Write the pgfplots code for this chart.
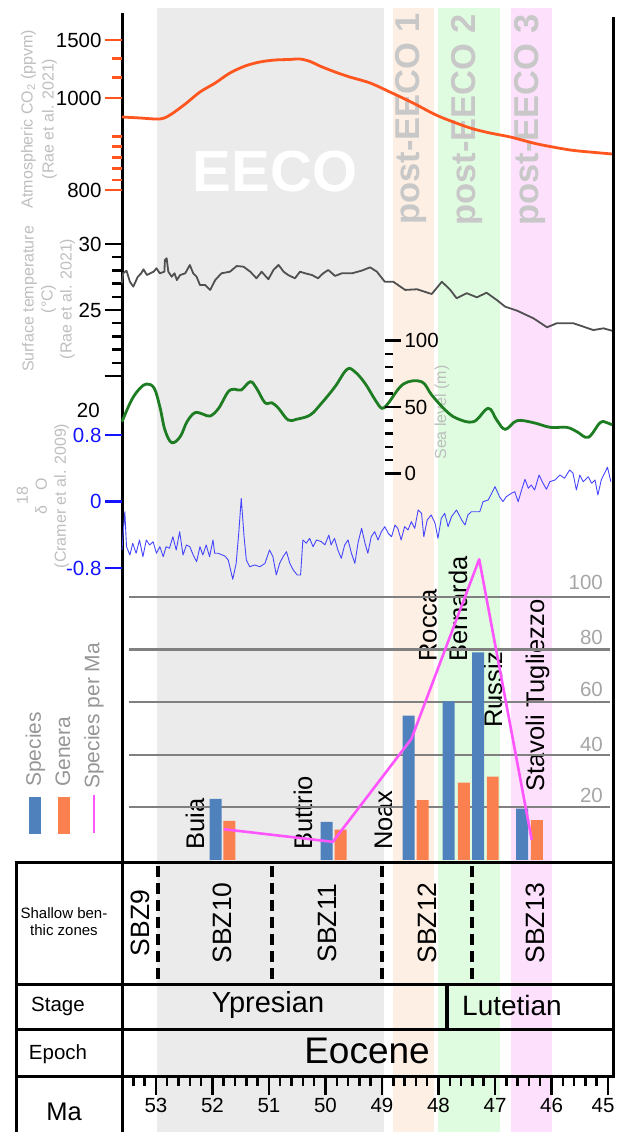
\documentclass[border=0pt]{standalone}
\usepackage{fontspec}
\setmainfont{Liberation Sans}
\usepackage{pgfplots}
\pgfplotsset{compat=1.18}
\definecolor{co2}{RGB}{255,85,30}
\definecolor{tempc}{RGB}{80,80,80}
\definecolor{seac}{RGB}{30,125,35}
\definecolor{oxc}{RGB}{70,70,255}
\definecolor{oxtick}{RGB}{20,20,255}
\definecolor{bandgray}{RGB}{235,235,235}
\definecolor{bandorange}{RGB}{253,239,227}
\definecolor{bandgreen}{RGB}{224,252,224}
\definecolor{bandpink}{RGB}{252,224,252}
\definecolor{barblue}{RGB}{79,129,189}
\definecolor{barorange}{RGB}{250,128,80}
\definecolor{spm}{RGB}{255,85,255}
\definecolor{gridc}{RGB}{128,128,128}
\definecolor{labgray}{RGB}{190,190,190}
\definecolor{gridlab}{RGB}{165,165,165}
\definecolor{leggray}{RGB}{150,150,150}
\definecolor{postc}{RGB}{200,200,200}
\newcommand{\fs}[1]{\fontsize{#1}{#1}\selectfont}
\pgfplotsset{
  panel/.style={scale only axis, width=490pt, xmin=44.93, xmax=53.60, x dir=reverse,
    clip=false, axis line style={draw=none}, xtick=\empty, tick pos=left,
    tick align=outside, major tick length=17pt, minor tick length=10pt,
    tick label style={font=\fontsize{20.5}{22}\selectfont}, anchor=south west},
}
\begin{document}
\begin{tikzpicture}
\useasboundingbox (0,0) rectangle (617pt,1132pt);
% background bands
\begin{axis}[scale only axis, width=490pt, height=1124pt, at={(122pt,0pt)}, anchor=south west,
  xmin=44.93, xmax=53.60, x dir=reverse, ymin=0, ymax=1, hide axis, clip=false]
\addplot[fill=bandgray, draw=none] coordinates {(52.98,0) (48.97,0) (48.97,1) (52.98,1)} -- cycle;
\addplot[fill=bandorange, draw=none] coordinates {(48.80,0) (48.08,0) (48.08,1) (48.80,1)} -- cycle;
\addplot[fill=bandgreen, draw=none] coordinates {(48.01,0) (46.91,0) (46.91,1) (48.01,1)} -- cycle;
\addplot[fill=bandpink, draw=none] coordinates {(46.71,0) (45.99,0) (45.99,1) (46.71,1)} -- cycle;
\end{axis}
% texts and table in pixel coordinates
\begin{scope}[x=1pt,y=-1pt,shift={(0pt,1132pt)}]
\node[font=\fs{58}\bfseries, text=white] at (275,172) {EECO};
\node[rotate=90, inner sep=0, font=\fs{34.5}\bfseries, text=postc] at (411,119) {post-EECO 1};
\node[rotate=90, inner sep=0, font=\fs{34.5}\bfseries, text=postc] at (466.7,120) {post-EECO 2};
\node[rotate=90, inner sep=0, font=\fs{34.5}\bfseries, text=postc] at (529.7,120) {post-EECO 3};
% axis labels
\node[rotate=90, align=center, inner sep=0, font=\fontsize{16}{21}\selectfont, text=labgray] at (39,119) {Atmospheric CO\textsubscript{2} (ppvm)\\(Rae et al. 2021)};
\node[rotate=90, align=center, inner sep=0, font=\fontsize{16}{19}\selectfont, text=labgray] at (48.5,299) {Surface temperature\\(°C)\\(Rae et al. 2021)};
\node[rotate=90, align=center, inner sep=0, font=\fontsize{16}{19}\selectfont, text=labgray] at (43,496) {18\\δ\hspace{15pt}O\\(Cramer et al. 2009)};
\node[rotate=90, inner sep=0, font=\fs{16}, text=labgray] at (442,412.5) {Sea level (m)};
\node[anchor=east, inner sep=0, font=\fs{20.5}] at (100,410.5) {20};
% site labels
\node[rotate=90, anchor=west, inner sep=0, font=\fs{25.5}] at (195,850) {Buia};
\node[rotate=90, anchor=west, inner sep=0, font=\fs{25.5}] at (303,850) {Buttrio};
\node[rotate=90, anchor=west, inner sep=0, font=\fs{25.5}] at (383.5,850) {Noax};
\node[rotate=90, anchor=west, inner sep=0, font=\fs{25.5}] at (428,661.7) {Rocca};
\node[rotate=90, anchor=west, inner sep=0, font=\fs{25.5}] at (458,661.7) {Bernarda};
\node[rotate=90, anchor=west, inner sep=0, font=\fs{25.5}] at (493,728) {Russiz};
\node[rotate=90, anchor=west, inner sep=0, font=\fs{25.5}] at (537.5,791.7) {Stavoli Tugliezzo};
% grid labels
\node[anchor=base east, inner sep=0, font=\fs{20.5}, text=gridlab] at (603,590) {100};
\node[anchor=base east, inner sep=0, font=\fs{20.5}, text=gridlab] at (603,645) {80};
\node[anchor=base east, inner sep=0, font=\fs{20.5}, text=gridlab] at (603,697) {60};
\node[anchor=base east, inner sep=0, font=\fs{20.5}, text=gridlab] at (603,752) {40};
\node[anchor=base east, inner sep=0, font=\fs{20.5}, text=gridlab] at (603,803) {20};
% legend
\node[rotate=90, anchor=west, inner sep=0, font=\fs{21}, text=leggray] at (35.5,787) {Species};
\node[rotate=90, anchor=west, inner sep=0, font=\fs{21}, text=leggray] at (63,787) {Genera};
\node[rotate=90, anchor=west, inner sep=0, font=\fs{21}, text=leggray] at (94,789) {Species per Ma};
\fill[barblue] (29,797) rectangle (41,834);
\fill[barorange] (58,797) rectangle (70,834);
\draw[spm, line width=2.8pt] (94,795) -- (94,833);
% frame lines
\draw[line width=3pt] (122,13) -- (122,1132);
\draw[line width=3pt] (613,17) -- (613,1077);
\draw[line width=3pt] (16,863) -- (16,1132);
\foreach \yy in {863,985,1030,1077} {\draw[line width=3pt] (14.5,\yy) -- (614.5,\yy);}
\foreach \xx in {157.5,271.6,382,471.7} {\draw[line width=4pt, dash pattern=on 11pt off 6pt] (\xx,866) -- (\xx,984);}
\draw[line width=4pt] (447,985) -- (447,1030);
% table texts
\node[align=center, font=\fontsize{15}{17}\selectfont] at (64,922) {Shallow ben-\\thic zones};
\foreach \xx/\tt in {140/SBZ9,222/SBZ10,327/SBZ11,427/SBZ12,535/SBZ13} {\node[rotate=90, inner sep=0, font=\fs{26.5}] at (\xx,923) {\tt};}
\node[anchor=base, font=\fs{20.5}] at (58,1012) {Stage};
\node[anchor=base, font=\fs{20.5}] at (58,1060) {Epoch};
\node[anchor=base, font=\fs{25.5}] at (64,1120) {Ma};
\node[anchor=base, font=\fs{29}] at (268,1013) {Ypresian};
\node[anchor=base, font=\fs{28}] at (512,1016) {Lutetian};
\node[anchor=base, font=\fs{37}] at (367,1063.5) {Eocene};
\end{scope}
% CO2
\begin{axis}[panel, at={(122pt,932pt)}, height=170pt, ymin=-102, ymax=68,
  ytick={-92,0,58}, yticklabels={800,1000,1500},
  minor ytick={39.3,20.3,-38.7,-48.7,-59.7,-70.3,-82},
  tick style={line width=2.5pt, color=co2}]
\addplot[co2, line width=2.8pt, smooth] coordinates {(53.60,-19) (53.28,-20) (52.93,-21) (52.75,-17) (52.48,-6) (52.22,6) (51.95,15) (51.69,25) (51.42,32) (51.16,36) (50.89,38) (50.63,38.5) (50.45,39) (50.27,36.5) (50.10,32) (49.83,26) (49.57,21) (49.21,15) (48.86,6) (48.45,-5) (48.15,-14) (47.92,-20) (47.44,-30) (47.09,-35) (46.73,-39) (46.25,-46) (45.67,-52) (45.23,-54.5) (44.93,-56)};
\end{axis}
% Temperature
\begin{axis}[panel, at={(122pt,752pt)}, height=140pt, ymin=19.697, ymax=30.303,
  ytick={20,25,30}, yticklabels={,25,30}, minor ytick={21,22,23,24,26,27,28,29},
  tick style={line width=2.5pt, color=black}]
\addplot[tempc, line width=1.8pt, line join=round] coordinates {(53.60,27.02) (53.58,27.78) (53.52,27.98) (53.46,27.14) (53.40,26.77) (53.32,27.52) (53.26,27.78) (53.22,28.08) (53.16,27.65) (53.10,27.78) (53.04,27.90) (52.99,28.16) (52.93,27.78) (52.85,27.90) (52.84,28.79) (52.81,28.92) (52.78,27.90) (52.72,27.52) (52.67,27.78) (52.63,27.27) (52.57,27.65) (52.48,27.78) (52.40,28.41) (52.34,27.78) (52.28,27.52) (52.22,26.89) (52.13,26.89) (52.04,26.52) (51.95,27.27) (51.84,27.78) (51.69,27.90) (51.57,28.33) (51.45,28.28) (51.33,27.90) (51.22,27.40) (51.13,27.90) (51.01,27.33) (50.92,28.03) (50.83,28.41) (50.74,27.90) (50.66,27.65) (50.54,27.40) (50.45,27.90) (50.36,27.78) (50.24,27.65) (50.13,27.40) (50.04,27.78) (49.95,28.03) (49.83,27.58) (49.71,27.78) (49.53,27.78) (49.36,27.98) (49.21,28.23) (49.09,27.90) (48.95,27.14) (48.80,27.14) (48.59,26.52) (48.38,26.57) (48.12,26.21) (47.94,27.14) (47.79,26.52) (47.68,25.89) (47.50,26.27) (47.32,25.96) (47.15,26.31) (46.97,25.76) (46.82,25.25) (46.61,24.95) (46.32,24.37) (46.08,23.69) (45.91,23.99) (45.61,23.99) (45.26,23.48) (45.08,23.61) (44.93,23.43)};
\end{axis}
% Sea level curve
\begin{axis}[panel, at={(122pt,652pt)}, height=150pt, ymin=-4.887, ymax=107.895, ytick=\empty]
\addplot[seac, line width=2.8pt, smooth, tension=0.6] coordinates {(53.60,38.9) (53.43,55.3) (53.28,64.1) (53.16,67.3) (53.03,64.1) (52.93,50.2) (52.84,32.7) (52.72,23.2) (52.57,27.7) (52.45,38.9) (52.31,45.7) (52.16,44.5) (52.04,43.2) (51.89,49.0) (51.72,61.5) (51.60,63.3) (51.49,62.8) (51.33,69.0) (51.22,64.1) (51.07,53.2) (50.95,53.2) (50.83,49.0) (50.66,40.2) (50.51,40.8) (50.27,44.0) (50.07,52.8) (49.83,65.3) (49.62,78.3) (49.48,76.5) (49.30,67.8) (49.12,55.3) (49.00,49.0) (48.89,52.8) (48.62,67.3) (48.30,69.0) (48.12,59.0) (47.88,47.7) (47.68,41.5) (47.38,38.9) (47.12,49.0) (46.97,40.2) (46.82,33.2) (46.61,39.7) (46.32,38.2) (46.02,34.7) (45.73,34.7) (45.55,31.4) (45.35,27.2) (45.14,38.2) (45.02,38.2) (44.93,36.5)};
\end{axis}
% Sea level ticks
\begin{axis}[scale only axis, width=10pt, height=150pt, at={(375pt,652pt)}, anchor=south west,
  xmin=0, xmax=1, ymin=-4.887, ymax=107.895, xtick=\empty, axis line style={draw=none},
  tick pos=right, tick align=outside, major tick length=16pt, minor tick length=8pt,
  ytick={0,50,100}, yticklabels={0,50,100}, minor ytick={10,20,30,40,60,70,80,90},
  tick style={line width=2.5pt, color=black}, tick label style={font=\fontsize{20.5}{22}\selectfont}]
\addplot[draw=none] coordinates {(0.5,50)};
\end{axis}
% d18O
\begin{axis}[panel, at={(122pt,557pt)}, height=145pt, ymin=-0.8845, ymax=0.8604,
  ytick={-0.8,0,0.8}, yticklabels={-0.8,0,0.8},
  tick style={line width=2.5pt, color=oxtick}, yticklabel style={text=oxtick}]
\addplot[oxc, line width=0.9pt, line join=round] coordinates {(53.60,-0.584) (53.55,-0.123) (53.52,-0.544) (53.46,-0.644) (53.41,-0.503) (53.35,-0.623) (53.29,-0.463) (53.23,-0.664) (53.17,-0.463) (53.11,-0.523) (53.05,-0.484) (52.99,-0.623) (52.93,-0.544) (52.87,-0.664) (52.82,-0.544) (52.76,-0.563) (52.70,-0.424) (52.64,-0.584) (52.58,-0.363) (52.52,-0.644) (52.46,-0.523) (52.40,-0.544) (52.34,-0.644) (52.28,-0.724) (52.22,-0.544) (52.17,-0.644) (52.11,-0.523) (52.05,-0.664) (51.99,-0.463) (51.96,-0.623) (51.90,-0.623) (51.78,-0.656) (51.72,-0.704) (51.64,-0.936) (51.58,-0.744) (51.53,-0.343) (51.49,0.039) (51.44,-0.424) (51.40,-0.704) (51.34,-0.785) (51.25,-0.764) (51.16,-0.785) (51.07,-0.744) (50.99,-0.584) (50.93,-0.664) (50.87,-0.884) (50.81,-0.744) (50.75,-0.664) (50.69,-0.604) (50.63,-0.744) (50.57,-0.824) (50.50,-0.884) (50.44,-0.884) (50.40,-0.463) (50.34,-0.503) (50.28,-0.443) (50.22,-0.544) (50.16,-0.463) (50.07,-0.484) (50.01,-0.523) (49.94,-0.403) (49.90,-0.523) (49.84,-0.443) (49.78,-0.584) (49.72,-0.684) (49.66,-0.523) (49.60,-0.463) (49.54,-0.623) (49.48,-0.744) (49.42,-0.484) (49.36,-0.323) (49.30,-0.503) (49.25,-0.623) (49.19,-0.424) (49.13,-0.363) (49.07,-0.463) (49.01,-0.363) (48.95,-0.303) (48.89,-0.383) (48.83,-0.424) (48.77,-0.283) (48.72,-0.323) (48.66,-0.463) (48.60,-0.303) (48.54,-0.343) (48.48,-0.243) (48.42,-0.323) (48.36,-0.102) (48.30,-0.142) (48.26,-0.424) (48.20,-0.223) (48.13,-0.162) (48.06,-0.262) (48.01,-0.443) (47.95,-0.202) (47.89,-0.142) (47.83,-0.303) (47.77,-0.183) (47.68,-0.102) (47.59,-0.223) (47.53,-0.283) (47.48,-0.162) (47.42,-0.123) (47.27,-0.123) (47.21,-0.002) (47.12,0.018) (47.00,0.178) (46.92,0.058) (46.86,-0.002) (46.80,0.058) (46.71,0.099) (46.65,0.118) (46.59,-0.002) (46.53,0.138) (46.47,0.267) (46.41,0.159) (46.36,0.199) (46.30,0.138) (46.22,0.319) (46.15,0.219) (46.09,0.147) (46.03,0.238) (45.94,0.259) (45.85,0.319) (45.77,0.279) (45.68,0.379) (45.62,0.339) (45.56,0.138) (45.50,0.319) (45.44,0.238) (45.35,0.298) (45.29,0.219) (45.23,0.259) (45.18,0.078) (45.12,0.259) (45.01,0.412) (44.95,0.238)};
\end{axis}
% Species / genera
\begin{axis}[panel, at={(122pt,272pt)}, height=305pt, ymin=0, ymax=115.93, ytick=\empty]
\addplot[gridc, line width=2.2pt] coordinates {(53.476,20) (44.965,20)};
\addplot[gridc, line width=2.2pt] coordinates {(53.476,40) (44.965,40)};
\addplot[gridc, line width=2.2pt] coordinates {(53.476,60) (44.965,60)};
\addplot[gridc, line width=2.2pt] coordinates {(53.476,80) (44.965,80)};
\addplot[gridc, line width=2.2pt] coordinates {(53.476,100) (44.965,100)};
\addplot[ybar, bar width=0.212, bar shift=0pt, fill=barblue, draw=none] coordinates {(51.945,23.2) (49.98,14.5) (48.53,54.9) (47.82,60.3) (47.30,78.9) (46.52,19.5)};
\addplot[ybar, bar width=0.212, bar shift=0pt, fill=barorange, draw=none] coordinates {(51.70,14.9) (49.73,11.5) (48.28,22.8) (47.55,29.4) (47.04,31.7) (46.26,15.2)};
\addplot[spm, line width=2.6pt, line join=round] coordinates {(51.80,11.7) (49.87,6.9) (48.48,46.0) (47.28,114.3) (46.35,7.6)};
\end{axis}
% Ma axis
\begin{axis}[scale only axis, width=490pt, height=17pt, at={(122pt,55pt)}, anchor=south west,
  xmin=44.93, xmax=53.60, x dir=reverse, ymin=0, ymax=1, ytick=\empty,
  axis line style={draw=none}, tick pos=left, tick align=outside,
  major tick length=18pt, minor tick length=9pt, tick style={line width=2.5pt, color=black},
  xtick={45,46,47,48,49,50,51,52,53}, xticklabels={\hspace*{-10pt}45,46,47,48,49,50,51,52,53},
  minor xtick={45.2,45.4,45.6,45.8,46.2,46.4,46.6,46.8,47.2,47.4,47.6,47.8,48.2,48.4,48.6,48.8,49.2,49.4,49.6,49.8,50.2,50.4,50.6,50.8,51.2,51.4,51.6,51.8,52.2,52.4,52.6,52.8,53.2,53.4},
  tick label style={font=\fontsize{20.5}{22}\selectfont}, clip=false]
\addplot[draw=none] coordinates {(50,0.5)};
\end{axis}
\end{tikzpicture}
\end{document}
